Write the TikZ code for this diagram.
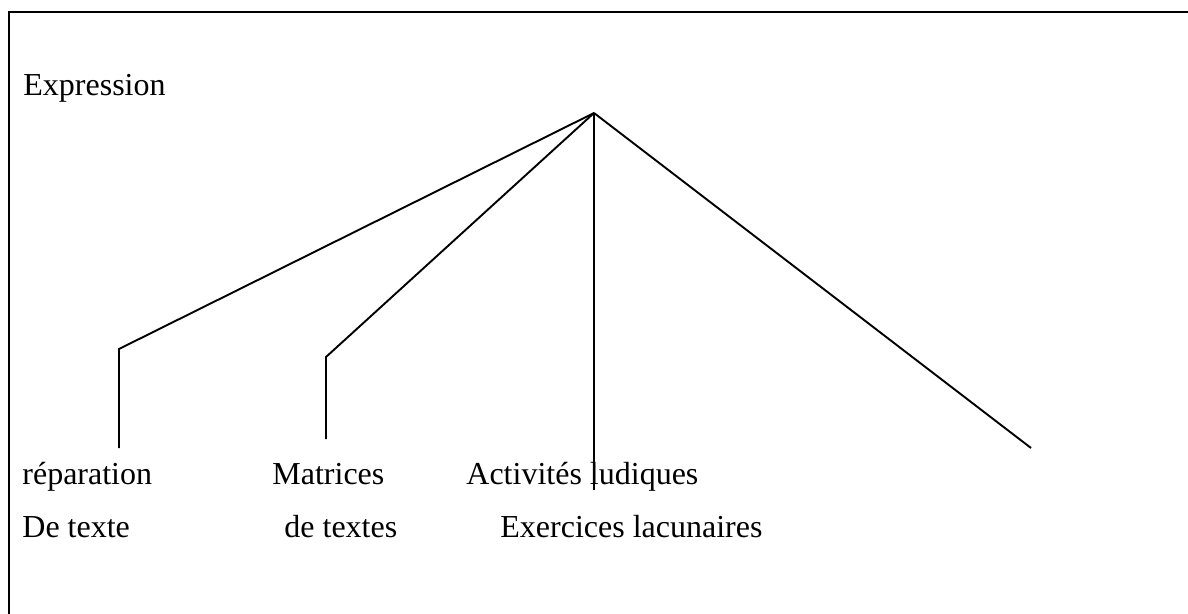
\documentclass[tikz,border=0pt]{standalone}
\usepackage{fontspec}
\setmainfont{Liberation Serif}
\begin{document}
\begin{tikzpicture}[x=0.5pt,y=-0.5pt,
  txt/.style={anchor=base west,inner sep=0pt,font=\fontsize{16}{19}\selectfont},
  branch/.style={line width=0.95pt,line join=miter},
  frameline/.style={line width=1.4pt}]
\useasboundingbox (0,0) rectangle (1188,614);
% page frame (top and left edges)
\coordinate (ftr) at (1188,12);
\coordinate (ftl) at (9,12);
\coordinate (fbl) at (9,614);
\draw[frameline] (ftr) -- (ftl) -- (fbl);

% title
\node[txt] (expr) at (23,96) {Expression};

% tree: apex, bends and free ends
\coordinate (apex) at (594,113);
\coordinate (b1) at (119,349);
\coordinate (e1) at (119,448);
\coordinate (b2) at (326,357);
\coordinate (e2) at (326,439);
\coordinate (e3) at (594,490);
\coordinate (e4) at (1031,448);

\draw[branch] (apex) -- (b1) -- (e1);
\draw[branch] (apex) -- (b2) -- (e2);
\draw[branch] (apex) -- (e3);
\draw[branch] (apex) -- (e4);

% leaf labels
\node[txt] (rep) at (22,484) {réparation};
\node[txt] (mat) at (272,484) {Matrices};
\node[txt] (act) at (466,484) {Activités ludiques};
\node[txt] (dtx) at (22,537) {De texte};
\node[txt] (dts) at (284,537) {de textes};
\node[txt] (exl) at (500,537) {Exercices lacunaires};
\end{tikzpicture}
\end{document}
